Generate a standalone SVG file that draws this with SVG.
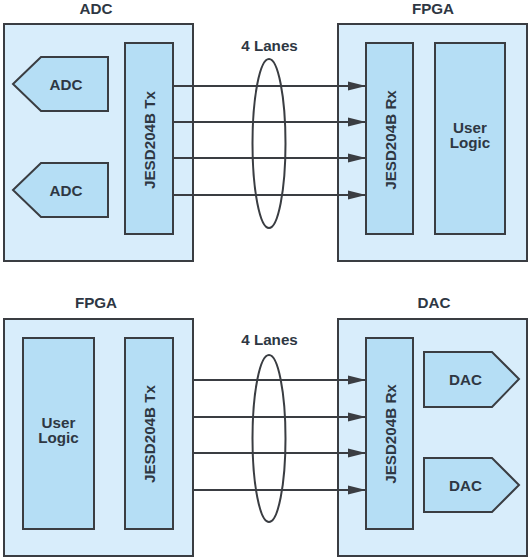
<svg xmlns="http://www.w3.org/2000/svg" width="529" height="558" viewBox="0 0 529 558">
<style>
.outer{fill:#d8edfb;stroke:#3a3d42;stroke-width:2}
.inner{fill:#b5def5;stroke:#3a3d42;stroke-width:2}
.t{font-family:"Liberation Sans",Arial,sans-serif;font-weight:bold;font-size:15.2px;fill:#2e3743;text-anchor:middle}
.lane{stroke:#3a3d42;stroke-width:2;fill:none}
.ell{fill:none;stroke:#3a3d42;stroke-width:2}
</style>
<defs>
<marker id="arr" markerUnits="userSpaceOnUse" markerWidth="18" markerHeight="10" refX="18" refY="5" orient="auto">
<path d="M0,0.5 L18,5 L0,9.5 Z" fill="#3a3d42"/>
</marker>
</defs>
<rect width="529" height="558" fill="#ffffff"/>

<g id="top-adc">
<text class="t" x="96" y="14">ADC</text>
<rect class="outer" x="4" y="24" width="189" height="237"/>
</g>
<g id="top-adc1">
<polygon class="inner" points="13,84 41,57 108,57 108,111 41,111"/>
<text class="t" x="66" y="90">ADC</text>
</g>
<g id="top-adc2">
<polygon class="inner" points="13,190 41,163 108,163 108,217 41,217"/>
<text class="t" x="66" y="196">ADC</text>
</g>
<g id="top-tx">
<rect class="inner" x="125" y="43" width="48" height="191"/>
<text class="t" transform="translate(154.5,140) rotate(-90)">JESD204B Tx</text>
</g>
<g id="top-fpga">
<text class="t" x="433" y="14">FPGA</text>
<rect class="outer" x="338" y="24" width="189" height="237"/>
</g>
<g id="top-rx">
<rect class="inner" x="366" y="43" width="47" height="191"/>
<text class="t" transform="translate(395.5,140) rotate(-90)">JESD204B Rx</text>
</g>
<g id="top-logic">
<rect class="inner" x="435" y="43" width="70" height="191"/>
<text class="t" x="470" y="133">User<tspan x="470" dy="15.3">Logic</tspan></text>
</g>

<g id="bot-fpga">
<text class="t" x="96" y="308">FPGA</text>
<rect class="outer" x="4" y="319" width="189" height="237"/>
</g>
<g id="bot-logic">
<rect class="inner" x="23" y="338" width="71" height="191"/>
<text class="t" x="58.5" y="428">User<tspan x="58.5" dy="15.3">Logic</tspan></text>
</g>
<g id="bot-tx">
<rect class="inner" x="125" y="338" width="48" height="191"/>
<text class="t" transform="translate(154.5,434) rotate(-90)">JESD204B Tx</text>
</g>
<g id="bot-dac">
<text class="t" x="434" y="308">DAC</text>
<rect class="outer" x="338" y="319" width="189" height="237"/>
</g>
<g id="bot-rx">
<rect class="inner" x="366" y="338" width="47" height="191"/>
<text class="t" transform="translate(395.5,434) rotate(-90)">JESD204B Rx</text>
</g>
<g id="bot-dac1">
<polygon class="inner" points="424,352 492,352 519,379 492,407 424,407"/>
<text class="t" x="465.5" y="384.5">DAC</text>
</g>
<g id="bot-dac2">
<polygon class="inner" points="424,458 492,458 519,485 492,512 424,512"/>
<text class="t" x="465.5" y="490.5">DAC</text>
</g>

<g id="connectors">
<line class="lane" x1="173" y1="86" x2="366" y2="86" marker-end="url(#arr)"/>
<line class="lane" x1="173" y1="122" x2="366" y2="122" marker-end="url(#arr)"/>
<line class="lane" x1="173" y1="158" x2="366" y2="158" marker-end="url(#arr)"/>
<line class="lane" x1="173" y1="195" x2="366" y2="195" marker-end="url(#arr)"/>
<ellipse class="ell" cx="269" cy="143.5" rx="16.5" ry="84.5"/>
<text class="t" x="269.5" y="51">4 Lanes</text>

<line class="lane" x1="193" y1="380" x2="366" y2="380" marker-end="url(#arr)"/>
<line class="lane" x1="193" y1="417" x2="366" y2="417" marker-end="url(#arr)"/>
<line class="lane" x1="193" y1="453" x2="366" y2="453" marker-end="url(#arr)"/>
<line class="lane" x1="193" y1="490" x2="366" y2="490" marker-end="url(#arr)"/>
<ellipse class="ell" cx="269" cy="438.5" rx="16.5" ry="83.5"/>
<text class="t" x="269.5" y="345">4 Lanes</text>
</g>
</svg>
